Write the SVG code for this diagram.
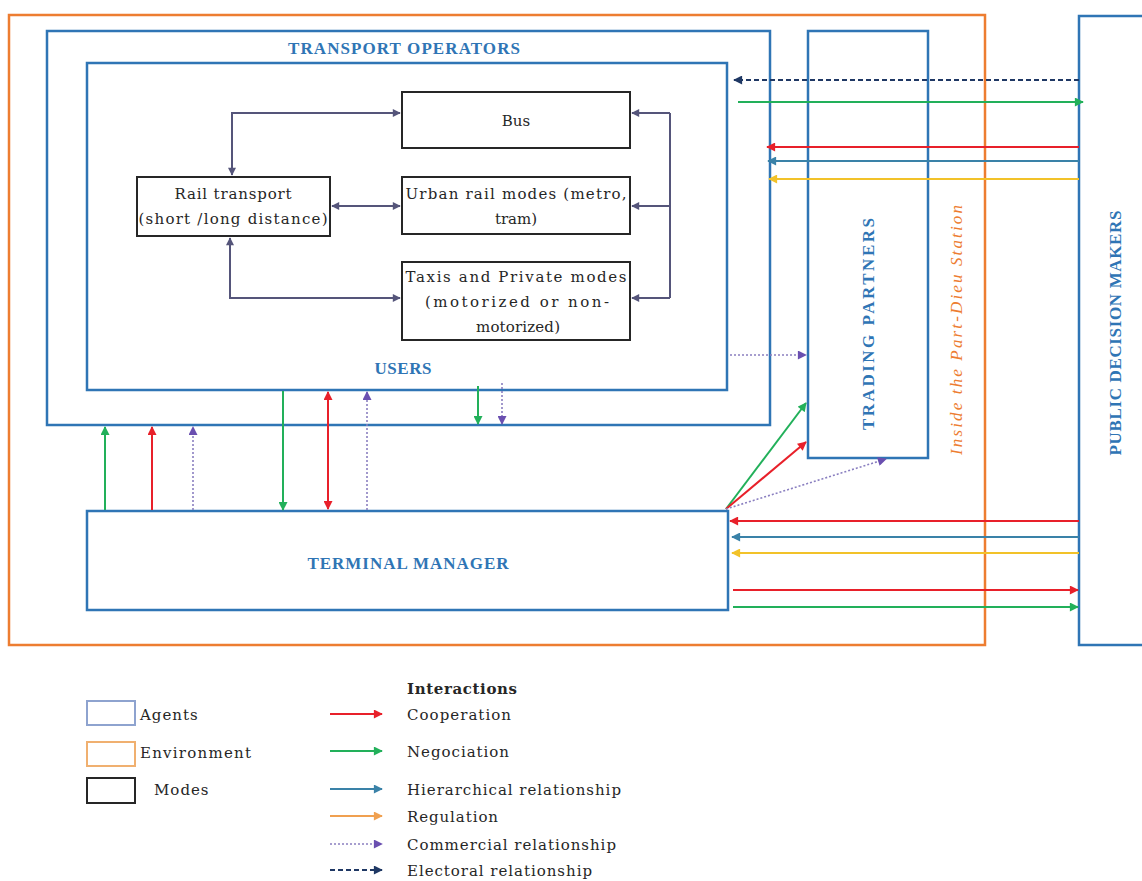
<svg xmlns="http://www.w3.org/2000/svg" width="1142" height="881" viewBox="0 0 1142 881">
<style>
.agent{fill:none;stroke:#2f75b5;stroke-width:2.5}
.env{fill:none;stroke:#ed7d31;stroke-width:2.5}
.mode{fill:#fff;stroke:#262626;stroke-width:2}
.atxt{font-family:"Liberation Serif","DejaVu Serif",serif;font-weight:bold;font-size:17px;fill:#2f75b5;text-anchor:middle}
.mtxt{font-family:"DejaVu Serif","Liberation Serif",serif;font-size:15px;fill:#262626;text-anchor:middle}
.ltxt{font-family:"DejaVu Serif","Liberation Serif",serif;font-size:15px;letter-spacing:1px;fill:#262626}
.mc{fill:none;stroke:#55557a;stroke-width:2}
.red{fill:none;stroke:#e8202a;stroke-width:2}
.grn{fill:none;stroke:#22b05a;stroke-width:2}
.hie{fill:none;stroke:#3a82a8;stroke-width:2}
.reg{fill:none;stroke:#f2c229;stroke-width:2}
.regl{fill:none;stroke:#f0a050;stroke-width:2}
.com{fill:none;stroke:#8a7fc0;stroke-width:1.6;stroke-dasharray:2 2}
.ele{fill:none;stroke:#1f3864;stroke-width:2;stroke-dasharray:5 3}
</style>
<defs>
<marker id="aM" viewBox="0 0 10 10" refX="9" refY="5" markerWidth="9" markerHeight="8" markerUnits="userSpaceOnUse" orient="auto-start-reverse"><path d="M0,0 L10,5 L0,10 z" fill="#55557a"/></marker>
<marker id="aR" viewBox="0 0 10 10" refX="9" refY="5" markerWidth="10" markerHeight="9" markerUnits="userSpaceOnUse" orient="auto-start-reverse"><path d="M0,0 L10,5 L0,10 z" fill="#e8202a"/></marker>
<marker id="aG" viewBox="0 0 10 10" refX="9" refY="5" markerWidth="10" markerHeight="9" markerUnits="userSpaceOnUse" orient="auto-start-reverse"><path d="M0,0 L10,5 L0,10 z" fill="#22b05a"/></marker>
<marker id="aH" viewBox="0 0 10 10" refX="9" refY="5" markerWidth="10" markerHeight="9" markerUnits="userSpaceOnUse" orient="auto-start-reverse"><path d="M0,0 L10,5 L0,10 z" fill="#3a82a8"/></marker>
<marker id="aY" viewBox="0 0 10 10" refX="9" refY="5" markerWidth="10" markerHeight="9" markerUnits="userSpaceOnUse" orient="auto-start-reverse"><path d="M0,0 L10,5 L0,10 z" fill="#f2c229"/></marker>
<marker id="aO" viewBox="0 0 10 10" refX="9" refY="5" markerWidth="10" markerHeight="9" markerUnits="userSpaceOnUse" orient="auto-start-reverse"><path d="M0,0 L10,5 L0,10 z" fill="#f0a050"/></marker>
<marker id="aP" viewBox="0 0 10 10" refX="9" refY="5" markerWidth="10" markerHeight="9" markerUnits="userSpaceOnUse" orient="auto-start-reverse"><path d="M0,0 L10,5 L0,10 z" fill="#6a4fb0"/></marker>
<marker id="aE" viewBox="0 0 10 10" refX="9" refY="5" markerWidth="10" markerHeight="9" markerUnits="userSpaceOnUse" orient="auto-start-reverse"><path d="M0,0 L10,5 L0,10 z" fill="#1f3864"/></marker>
</defs>
<rect width="1142" height="881" fill="#fff"/>

<g id="environment">
<rect class="env" x="9" y="15" width="976" height="630"/>
<text x="962" y="330" transform="rotate(-90 962 330)" text-anchor="middle" font-family="Liberation Serif,serif" font-style="italic" font-size="17" fill="#ed7d31" textLength="250" lengthAdjust="spacing">Inside the Part-Dieu Station</text>
</g>

<g id="transport-operators">
<rect class="agent" x="47" y="31" width="723" height="394"/>
<text class="atxt" x="404" y="54" textLength="232" lengthAdjust="spacing">TRANSPORT OPERATORS</text>
</g>
<g id="users">
<rect class="agent" x="87" y="63" width="640" height="327"/>
<text class="atxt" x="403" y="374" textLength="57" lengthAdjust="spacing">USERS</text>
</g>
<g id="trading-partners">
<rect class="agent" x="808" y="31" width="120" height="427"/>
<text class="atxt" x="874" y="324" transform="rotate(-90 874 324)" textLength="212" lengthAdjust="spacing">TRADING PARTNERS</text>
</g>
<g id="public-decision-makers">
<rect class="agent" x="1079" y="16" width="80" height="629"/>
<text class="atxt" x="1121" y="333" transform="rotate(-90 1121 333)" textLength="245" lengthAdjust="spacing">PUBLIC DECISION MAKERS</text>
</g>
<g id="terminal-manager">
<rect class="agent" x="87" y="511" width="641" height="99"/>
<text class="atxt" x="408" y="569" textLength="201" lengthAdjust="spacing">TERMINAL MANAGER</text>
</g>

<g id="bus">
<rect class="mode" x="402" y="92" width="228" height="56"/>
<text class="mtxt" x="516" y="126">Bus</text>
</g>
<g id="urban-rail">
<rect class="mode" x="402" y="177" width="228" height="57"/>
<text class="mtxt" x="516" y="199" textLength="221" lengthAdjust="spacing">Urban rail modes (metro,</text>
<text class="mtxt" x="516" y="224">tram)</text>
</g>
<g id="taxis">
<rect class="mode" x="402" y="262" width="228" height="78"/>
<text class="mtxt" x="516" y="282" textLength="221" lengthAdjust="spacing">Taxis and Private modes</text>
<text class="mtxt" x="517" y="307" textLength="184" lengthAdjust="spacing">(motorized or non-</text>
<text class="mtxt" x="518" y="332" textLength="84" lengthAdjust="spacing">motorized)</text>
</g>
<g id="rail">
<rect class="mode" x="137" y="177" width="193" height="59"/>
<text class="mtxt" x="233" y="199" textLength="117" lengthAdjust="spacing">Rail transport</text>
<text class="mtxt" x="233" y="224" textLength="189" lengthAdjust="spacing">(short /long distance)</text>
</g>

<g id="connectors">
<path class="mc" d="M232,175 V113 H400" marker-start="url(#aM)" marker-end="url(#aM)"/>
<path class="mc" d="M332,206 H400" marker-start="url(#aM)" marker-end="url(#aM)"/>
<path class="mc" d="M230,238 V298 H400" marker-start="url(#aM)" marker-end="url(#aM)"/>
<path class="mc" d="M670,113 V298"/>
<path class="mc" d="M670,113 H632" marker-end="url(#aM)"/>
<path class="mc" d="M670,206 H632" marker-end="url(#aM)"/>
<path class="mc" d="M670,298 H632" marker-end="url(#aM)"/>

<path class="ele" d="M1079,80 H734" marker-end="url(#aE)"/>
<path class="grn" d="M738,102 H1083" marker-end="url(#aG)"/>
<path class="red" d="M1079,147 H767" marker-end="url(#aR)"/>
<path class="hie" d="M1079,161 H768" marker-end="url(#aH)"/>
<path class="reg" d="M1079,179 H769" marker-end="url(#aY)"/>

<path class="com" d="M730,355 H806" marker-end="url(#aP)"/>
<path class="grn" d="M726,509 L806,403" marker-end="url(#aG)"/>
<path class="red" d="M726,509 L806,442" marker-end="url(#aR)"/>
<path class="com" d="M726,509 L886,459" marker-end="url(#aP)"/>

<path class="red" d="M1079,521 H730" marker-end="url(#aR)"/>
<path class="hie" d="M1079,537 H732" marker-end="url(#aH)"/>
<path class="reg" d="M1079,553 H732" marker-end="url(#aY)"/>
<path class="red" d="M733,590 H1078" marker-end="url(#aR)"/>
<path class="grn" d="M733,607 H1078" marker-end="url(#aG)"/>

<path class="grn" d="M105,510 V427" marker-end="url(#aG)"/>
<path class="red" d="M152,510 V427" marker-end="url(#aR)"/>
<path class="com" d="M193,510 V427" marker-end="url(#aP)"/>
<path class="grn" d="M283,391 V510" marker-end="url(#aG)"/>
<path class="red" d="M328,392 V509" marker-start="url(#aR)" marker-end="url(#aR)"/>
<path class="com" d="M367,510 V392" marker-end="url(#aP)"/>
<path class="grn" d="M478,386 V424" marker-end="url(#aG)"/>
<path class="com" d="M502,383 V424" marker-end="url(#aP)"/>
</g>

<g id="legend">
<rect x="87" y="701" width="48" height="24" fill="none" stroke="#8ea3cf" stroke-width="2"/>
<text class="ltxt" x="140" y="720">Agents</text>
<rect x="87" y="742" width="48" height="24" fill="none" stroke="#f0b070" stroke-width="2"/>
<text class="ltxt" x="140" y="758" textLength="112" lengthAdjust="spacing">Environment</text>
<rect x="87" y="778" width="48" height="25" fill="none" stroke="#262626" stroke-width="2"/>
<text class="ltxt" x="154" y="795">Modes</text>
<text class="ltxt" x="407" y="694" font-weight="bold" textLength="111" lengthAdjust="spacing">Interactions</text>
<path class="red" d="M330,714 H382" marker-end="url(#aR)"/>
<text class="ltxt" x="407" y="720" textLength="105" lengthAdjust="spacing">Cooperation</text>
<path class="grn" d="M330,751 H382" marker-end="url(#aG)"/>
<text class="ltxt" x="407" y="757" textLength="103" lengthAdjust="spacing">Negociation</text>
<path class="hie" d="M330,789 H382" marker-end="url(#aH)"/>
<text class="ltxt" x="407" y="795" textLength="215" lengthAdjust="spacing">Hierarchical relationship</text>
<path class="regl" d="M330,816 H382" marker-end="url(#aO)"/>
<text class="ltxt" x="407" y="822" textLength="92" lengthAdjust="spacing">Regulation</text>
<path class="com" d="M330,844 H382" marker-end="url(#aP)"/>
<text class="ltxt" x="407" y="850" textLength="210" lengthAdjust="spacing">Commercial relationship</text>
<path class="ele" d="M330,870 H382" marker-end="url(#aE)"/>
<text class="ltxt" x="407" y="876" textLength="186" lengthAdjust="spacing">Electoral relationship</text>
</g>
</svg>
